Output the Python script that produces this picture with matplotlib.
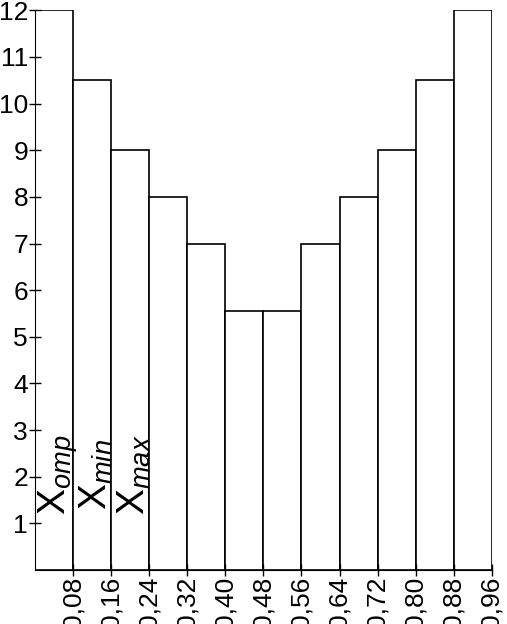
import numpy as np
import matplotlib
matplotlib.use('Agg')
import matplotlib.pyplot as plt

plt.rcParams['font.family'] = ['Liberation Sans', 'DejaVu Sans']
plt.rcParams['mathtext.fontset'] = 'custom'
plt.rcParams['mathtext.rm'] = 'Liberation Sans'
plt.rcParams['mathtext.it'] = 'Liberation Sans:italic'

# границы интервалов и высоты столбцов
edges = [0.00, 0.08, 0.16, 0.24, 0.32, 0.40, 0.48, 0.56, 0.64, 0.72, 0.80, 0.88, 0.96]
heights = [12, 10.5, 9, 8, 7, 5.55, 5.55, 7, 8, 9, 10.5, 12]
tick_labels = ['0,08', '0,16', '0,24', '0,32', '0,40', '0,48', '0,56',
               '0,64', '0,72', '0,80', '0,88', '0,96']
marks = [r'$\mathregular{X}_{omp}$', r'$\mathregular{X}_{min}$', r'$\mathregular{X}_{max}$']

fig = plt.figure(figsize=(5.07, 6.24), dpi=100)
ax = fig.add_axes([0.069, 0.0865, 0.901, 0.897])

ax.bar(edges[:-1], heights, width=0.08, align='edge',
       color='white', edgecolor='black', linewidth=1.2)

ax.set_xlim(0, 0.96)
ax.set_ylim(0, 12)
ax.set_xticks(edges[1:])
ax.set_xticklabels(tick_labels, rotation=90, fontsize=19)
ax.set_yticks(range(1, 13))
ax.set_yticklabels([str(i) for i in range(1, 13)], fontsize=19)
ax.tick_params(direction='inout', length=8, width=1, pad=1)
ax.spines['top'].set_visible(False)
ax.spines['right'].set_visible(False)

for i, m in enumerate(marks):
    ax.text(0.048 + 0.08 * i, 2.05, m, rotation=90, fontsize=28,
            ha='center', va='center')

fig.savefig('out.png', dpi=100)
